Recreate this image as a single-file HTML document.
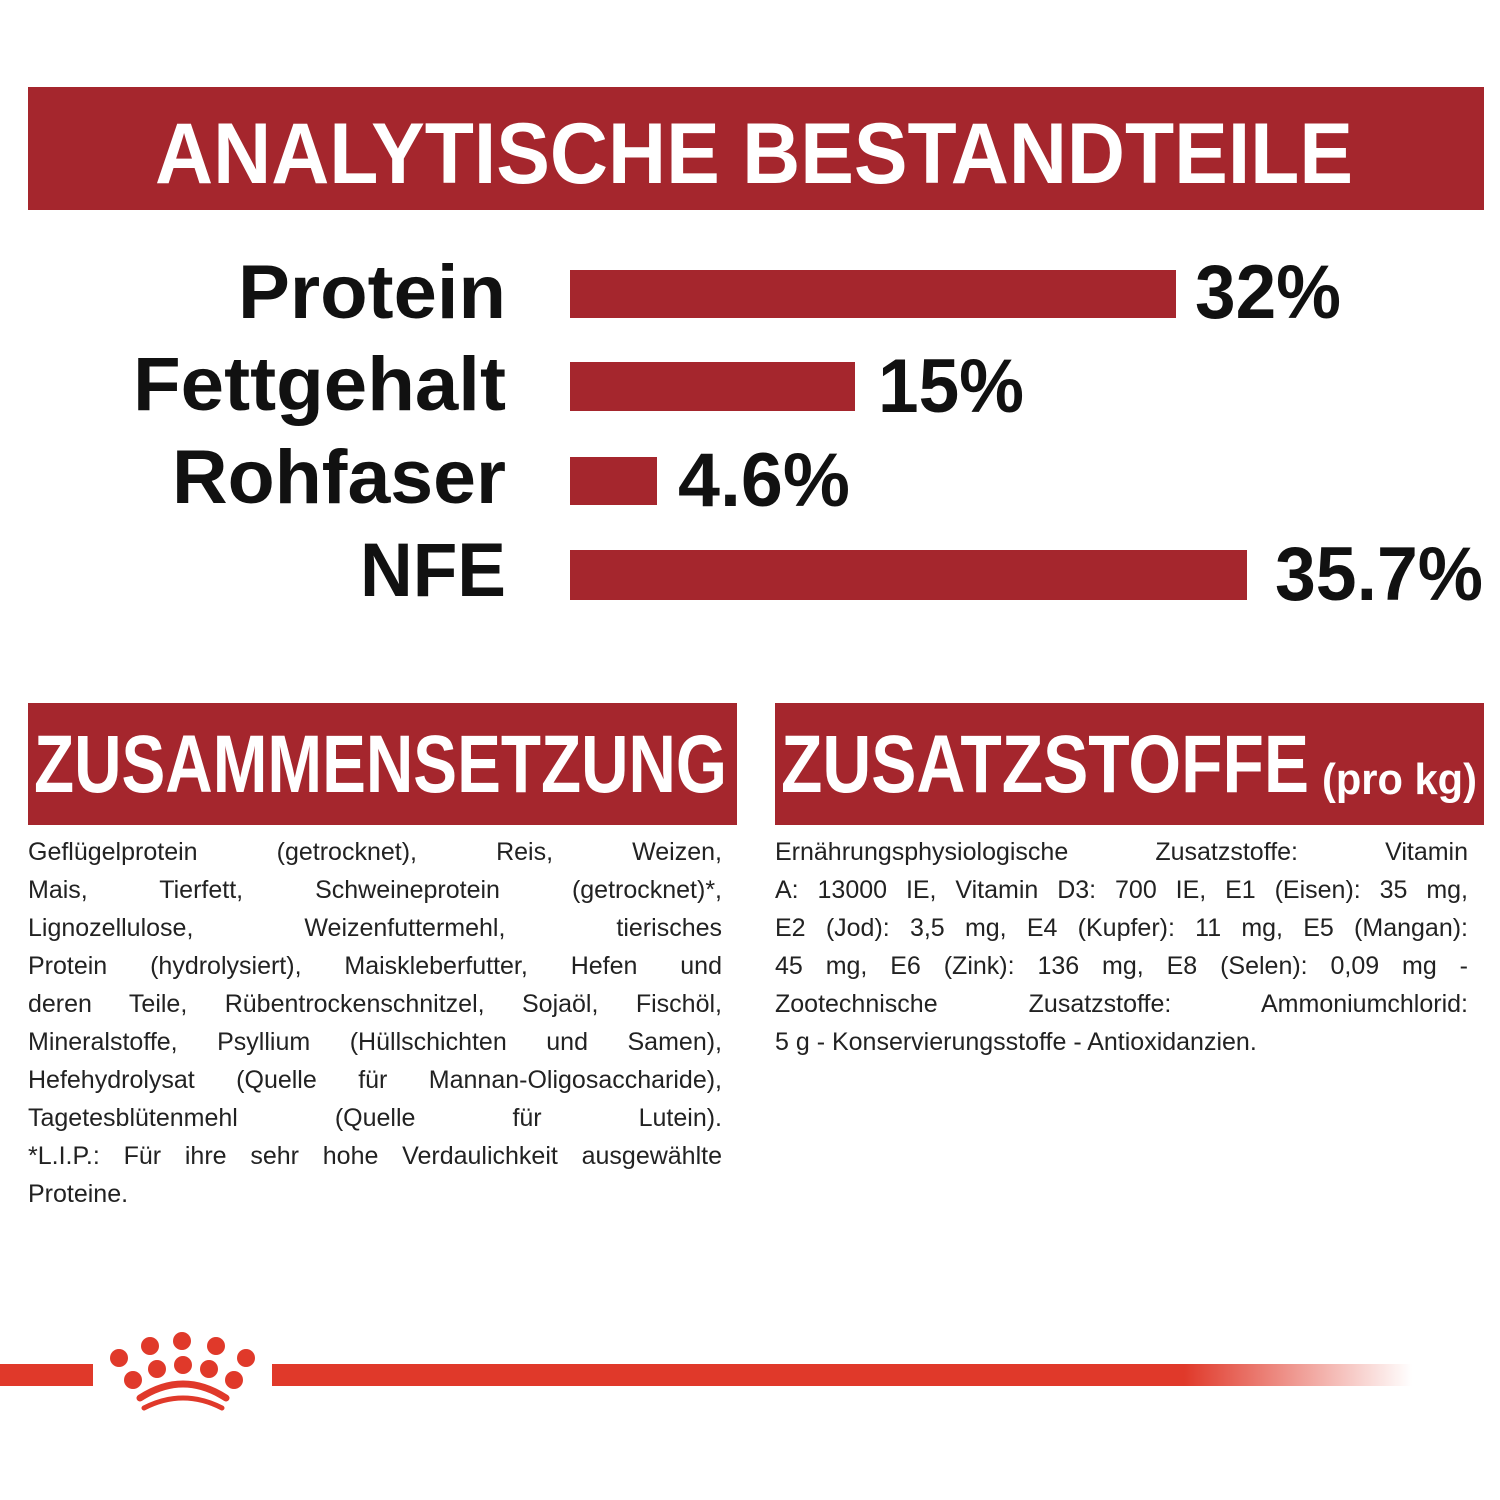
<!DOCTYPE html>
<html><head><meta charset="utf-8"><style>
body{margin:0;background:#fff;width:1500px;height:1500px;overflow:hidden;position:relative;font-family:"Liberation Sans",sans-serif}
.p{position:absolute;font-size:25px;line-height:38px;color:#222;white-space:nowrap}
.p div{text-align:justify;text-align-last:justify;white-space:normal}
.p div.l{text-align-last:left}
</style></head><body>
<svg width="1500" height="1500" style="position:absolute;left:0;top:0">
<defs><linearGradient id="g" x1="0" x2="1"><stop offset="0.8" stop-color="#e0392a"/><stop offset="1" stop-color="#e0392a" stop-opacity="0"/></linearGradient></defs>
<rect x="28" y="87" width="1456" height="123" fill="#a5262d"/>
<text x="155" y="183" font-size="86" font-weight="bold" fill="#fff" textLength="1198" lengthAdjust="spacingAndGlyphs">ANALYTISCHE BESTANDTEILE</text>
<g font-size="76" font-weight="bold" fill="#111">
<text x="238" y="318" textLength="268" lengthAdjust="spacingAndGlyphs">Protein</text>
<text x="133" y="410" textLength="373" lengthAdjust="spacingAndGlyphs">Fettgehalt</text>
<text x="172" y="503" textLength="334" lengthAdjust="spacingAndGlyphs">Rohfaser</text>
<text x="360" y="596" textLength="146" lengthAdjust="spacingAndGlyphs">NFE</text></g>
<g fill="#a5262d"><rect x="570" y="270" width="606" height="48"/><rect x="570" y="362" width="285" height="49"/><rect x="570" y="457" width="87" height="48"/><rect x="570" y="550" width="677" height="50"/></g>
<g font-size="76" font-weight="bold" fill="#111">
<text x="1195" y="318" textLength="146" lengthAdjust="spacingAndGlyphs">32%</text>
<text x="878" y="412" textLength="146" lengthAdjust="spacingAndGlyphs">15%</text>
<text x="678" y="506" textLength="172" lengthAdjust="spacingAndGlyphs">4.6%</text>
<text x="1275" y="600" textLength="208" lengthAdjust="spacingAndGlyphs">35.7%</text></g>
<rect x="28" y="703" width="709" height="122" fill="#a5262d"/>
<text x="34" y="792" font-size="82" font-weight="bold" fill="#fff" textLength="693" lengthAdjust="spacingAndGlyphs">ZUSAMMENSETZUNG</text>
<rect x="775" y="703" width="709" height="122" fill="#a5262d"/>
<text x="781" y="792" font-size="82" font-weight="bold" fill="#fff" textLength="528" lengthAdjust="spacingAndGlyphs">ZUSATZSTOFFE</text>
<text x="1322" y="794" font-size="44" font-weight="bold" fill="#fff" textLength="155" lengthAdjust="spacingAndGlyphs">(pro kg)</text>
<rect x="0" y="1364" width="93" height="22" fill="#e0392a"/>
<rect x="272" y="1364" width="1140" height="22" fill="url(#g)"/>
<g fill="#e0392a">
<circle cx="119" cy="1358" r="9"/><circle cx="150" cy="1346" r="9"/><circle cx="182" cy="1341" r="9"/><circle cx="216" cy="1346" r="9"/><circle cx="246" cy="1358" r="9"/>
<circle cx="133" cy="1380" r="9"/><circle cx="157" cy="1369" r="9"/><circle cx="183" cy="1365" r="9"/><circle cx="209" cy="1369" r="9"/><circle cx="234" cy="1380" r="9"/></g>
<path d="M140 1398 Q183 1370 226 1398" stroke="#e0392a" stroke-width="7" fill="none" stroke-linecap="round"/>
<path d="M144 1408 Q183 1388 222 1408" stroke="#e0392a" stroke-width="5" fill="none" stroke-linecap="round"/>
</svg>
<div class="p" style="left:28px;top:833px;width:694px">
<div>Geflügelprotein (getrocknet), Reis, Weizen,</div>
<div>Mais, Tierfett, Schweineprotein (getrocknet)*,</div>
<div>Lignozellulose, Weizenfuttermehl, tierisches</div>
<div>Protein (hydrolysiert), Maiskleberfutter, Hefen und</div>
<div>deren Teile, Rübentrockenschnitzel, Sojaöl, Fischöl,</div>
<div>Mineralstoffe, Psyllium (Hüllschichten und Samen),</div>
<div>Hefehydrolysat (Quelle für Mannan-Oligosaccharide),</div>
<div>Tagetesblütenmehl (Quelle für Lutein).</div>
<div>*L.I.P.: Für ihre sehr hohe Verdaulichkeit ausgewählte</div>
<div class="l">Proteine.</div>
</div>
<div class="p" style="left:775px;top:833px;width:693px">
<div>Ernährungsphysiologische Zusatzstoffe: Vitamin</div>
<div>A: 13000 IE, Vitamin D3: 700 IE, E1 (Eisen): 35 mg,</div>
<div>E2 (Jod): 3,5 mg, E4 (Kupfer): 11 mg, E5 (Mangan):</div>
<div>45 mg, E6 (Zink): 136 mg, E8 (Selen): 0,09 mg -</div>
<div>Zootechnische Zusatzstoffe: Ammoniumchlorid:</div>
<div class="l">5 g - Konservierungsstoffe - Antioxidanzien.</div>
</div>
</body></html>
